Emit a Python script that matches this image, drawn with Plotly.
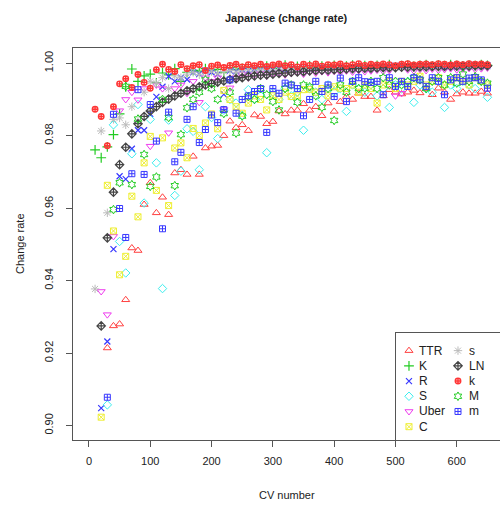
import plotly.graph_objects as go

# ---------------- data ----------------
CV_NUMBER = list(range(10, 651, 10))

SERIES_NAMES = ["TTR", "K", "R", "S", "Uber", "C", "s", "LN", "k", "M", "m"]

ttr = [None, None, .9214, .9275, .9280, .9347, .9490, .9483, .9610, .9670,
       .9587, .9630, .9582, .9697, .9706, .9693, .9743, .9693, .9766, .9771,
       .9773, .9800, .9840, .9822, .9830, .9814, .9857, .9853, .9833, .9839,
       .9868, .9860, .9870, .9870, .9888, .9870, .9880, .9855, .9890, .9867,
       .9894, .9908, .9900, .9917, .9908, .9908, .9870, .9910, .9927, .9920,
       .9915, .9920, .9925, .9918, .9930, .9913, .9931, .9920, .9900, .9915,
       .9920, .9917, .9917, .9922, .9917]

k_upper = [.9761, .9739, .9769, .9803, .9860, .9935, .9984, .9950, .9965, .9970,
           .9946, .9973, .9968, .9985, .9950, .9975, .9980, .9978, .9985, .9980,
           .9983, .9975, .9988, .9982, .9986, .9990, .9984, .9988, .9992, .9986,
           .9990, .9995, .9988, .9991, .9987, .9993, .9989, .9992, .9990, .9994,
           .9988, .9992, .9995, .9990, .9993, .9989, .9994, .9991, .9996, .9990,
           .9993, .9995, .9991, .9994, .9996, .9992, .9995, .9993, .9996, .9994,
           .9991, .9995, .9993, .9996, .9994]

r_upper = [None, .9048, .9232, .9487, .9688, .9680, .9764, .9815, .9815, .9860,
           .9907, .9935, .9964, .9950, .9960, .9955, .9975, .9970, .9980, .9975,
           .9970, .9914, .9980, .9977, .9982, .9979, .9984, .9981, .9985, .9983,
           .9986, .9982, .9987, .9985, .9988, .9984, .9987, .9989, .9986, .9988,
           .9990, .9987, .9989, .9991, .9988, .9990, .9992, .9989, .9991, .9993,
           .9990, .9992, .9989, .9993, .9991, .9994, .9992, .9990, .9993, .9991,
           .9994, .9992, .9995, .9993, .9994]

s_upper = [None, None, .9057, .9830, .9508, .9421, .9750, .9886, .9614, .9845,
           .9725, .9378, .9843, .9635, .9702, .9819, .9812, .9706, .9880, .9850,
           .9792, .9870, .9900, .9890, .9856, .9927, .9900, .9910, .9753, .9920,
           .9900, .9930, .9910, .9920, .9815, .9930, .9920, .9900, .9940, .9920,
           .9930, .9867, .9940, .9930, .9920, .9940, .9910, .9930, .9878, .9940,
           .9930, .9950, .9892, .9940, .9930, .9920, .9950, .9878, .9940, .9930,
           .9950, .9940, .9930, .9950, .9906]

uber = [None, .9370, .9306, .9522, .9869, .9900, .9920, .9899, .9930, .9771,
        .9940, .9930, .9808, .9930, .9940, .9917, .9950, .9892, .9960, .9950,
        .9960, .9872, .9932, .9960, .9970, .9960, .9968, .9972, .9965, .9970,
        .9974, .9968, .9972, .9975, .9970, .9976, .9973, .9977, .9974, .9978,
        .9975, .9979, .9976, .9980, .9977, .9979, .9981, .9978, .9980, .9910,
        .9917, .9982, .9979, .9983, .9980, .9984, .9981, .9983, .9985, .9982,
        .9984, .9986, .9983, .9985, .9987]

c_upper = [None, .9023, .9663, .9537, .9416, .9467, .9633, .9576, .9725, .9798,
           .9649, .9794, .9607, .9766, .9780, .9739, .9820, .9800, .9835, .9860,
           .9819, .9925, .9900, .9880, .9862, .9890, .9910, .9900, .9871, .9910,
           .9900, .9920, .9908, .9910, .9927, .9928, .9920, .9930, .9910, .9935,
           .9931, .9930, .9940, .9920, .9940, .9930, .9890, .9940, .9950, .9930,
           .9950, .9940, .9950, .9964, .9940, .9950, .9960, .9940, .9950, .9960,
           .9950, .9940, .9960, .9950, .9940]

s_lower = [.9377, .9813, .9587, .9845, .9849, .9830, .9880, .9840, .9920, .9950,
           .9945, .9960, .9930, .9965, .9960, .9970, .9975, .9968, .9974, .9978,
           .9972, .9977, .9980, .9975, .9979, .9982, .9978, .9981, .9983, .9979,
           .9982, .9984, .9981, .9985, .9983, .9986, .9984, .9987, .9985, .9987,
           .9986, .9988, .9986, .9989, .9987, .9989, .9988, .9990, .9988, .9990,
           .9989, .9991, .9989, .9991, .9990, .9992, .9990, .9992, .9991, .9992,
           .9991, .9993, .9992, .9993, .9992]

ln = [None, .9275, .9518, .9644, .9720, .9768, .9805, .9833, .9853, .9868,
      .9880, .9892, .9901, .9910, .9917, .9924, .9930, .9935, .9940, .9944,
      .9948, .9951, .9955, .9957, .9960, .9963, .9965, .9967, .9968, .9970,
      .9972, .9973, .9975, .9976, .9977, .9979, .9980, .9981, .9981, .9982,
      .9983, .9984, .9985, .9985, .9986, .9986, .9987, .9988, .9988, .9988,
      .9989, .9989, .9990, .9990, .9990, .9991, .9991, .9991, .9992, .9992,
      .9992, .9992, .9993, .9993, .9993]

k_lower = [.9873, .9853, .9772, .9880, .9943, .9957, .9933, .9969, .9947, .9931,
           .9982, .9997, .9983, .9977, .9996, .9985, .9993, .9996, .9980, .9992,
           .9995, .9988, .9994, .9997, .9990, .9996, .9993, .9997, .9991, .9995,
           .9998, .9993, .9996, .9990, .9997, .9994, .9998, .9992, .9996, .9995,
           .9998, .9993, .9996, .9999, .9994, .9997, .9995, .9998, .9996, .9993,
           .9997, .9999, .9995, .9997, .9998, .9996, .9999, .9997, .9995, .9998,
           .9996, .9999, .9997, .9998, .9996]

m_upper = [None, None, None, .9596, .9670, .9936, .9665, .9846, .9748, .9660,
           .9686, .9900, .9850, .9662, .9803, .9877, .9900, .9920, .9954, .9930,
           .9900, .9861, .9920, .9807, .9854, .9908, .9900, .9930, .9913, .9894,
           .9871, .9930, .9940, .9892, .9940, .9935, .9910, .9878, .9930, .9842,
           .9940, .9920, .9950, .9930, .9931, .9950, .9930, .9960, .9940, .9950,
           .9940, .9949, .9960, .9954, .9930, .9950, .9960, .9940, .9960, .9945,
           .9970, .9950, .9963, .9950, .9945]

m_lower = [None, None, .9078, .9859, .9599, .9519, .9695, .9927, .9693, .9886,
           .9785, .9543, .9865, .9728, .9754, .9845, .9880, .9781, .9817, .9857,
           .9836, .9872, .9954, .9862, .9900, .9910, .9922, .9930, .9809, .9930,
           .9917, .9945, .9940, .9930, .9855, .9900, .9950, .9922, .9940, .9908,
           .9959, .9894, .9950, .9960, .9949, .9947, .9950, .9913, .9960, .9936,
           .9950, .9936, .9960, .9954, .9936, .9960, .9950, .9913, .9954, .9960,
           .9950, .9959, .9960, .9954, .9931]

SERIES_VALUES = [ttr, k_upper, r_upper, s_upper, uber, c_upper,
                 s_lower, ln, k_lower, m_upper, m_lower]

X_TICKS = [0, 100, 200, 300, 400, 500, 600]
Y_TICKS = [0.90, 0.92, 0.94, 0.96, 0.98, 1.00]

# ---------------- styles ----------------
COLORS = ["#FF4040", "#22CC22", "#3838FF", "#3BEEEE", "#EE3BEE", "#EEEE30",
          "#BBBBBB", "#444444", "#FF3535", "#22CC22", "#3838FF"]
SYMBOLS = ["triangle-up-open", "cross-thin-open", "x-thin-open", "diamond-open",
           "triangle-down-open", "square-x-open", "asterisk-open",
           "diamond-cross-open", "circle-cross-open", "hexagram-open",
           "square-cross-open"]
SIZES = [7, 7, 6, 6.5, 7, 6, 7, 6.5, 5.5, 6.5, 6]
LINE_WIDTHS = [1, 1.2, 1.2, 1, 1, 1, 1, 1.2, 1.4, 1, 1]
FONT = "Liberation Sans, Arial, sans-serif"
AXIS_COLOR = "#555555"
TEXT_COLOR = "#222222"

# legend geometry (in legend-subplot units)
LEGEND_ROWS = 6
LEGEND_SYMBOL_X = [13, 62]
LEGEND_TEXT_X = [21, 71]

fig = go.Figure()

for name, vals, col, sym, sz, lw in zip(SERIES_NAMES, SERIES_VALUES, COLORS,
                                        SYMBOLS, SIZES, LINE_WIDTHS):
    fig.add_trace(go.Scatter(
        x=CV_NUMBER, y=vals, mode="markers", name=name, showlegend=False,
        marker=dict(symbol=sym, size=sz, color=col,
                    line=dict(color=col, width=lw)),
        cliponaxis=True,
    ))

# manual legend in a small overlay subplot (two columns like R's legend ncol=2)
annotations = []
for i, (name, col, sym, sz, lw) in enumerate(zip(SERIES_NAMES, COLORS, SYMBOLS,
                                                 SIZES, LINE_WIDTHS)):
    c = i // LEGEND_ROWS
    r = i % LEGEND_ROWS
    fig.add_trace(go.Scatter(
        x=[LEGEND_SYMBOL_X[c]], y=[r], mode="markers", showlegend=False,
        xaxis="x2", yaxis="y2", hoverinfo="skip",
        marker=dict(symbol=sym, size=sz, color=col,
                    line=dict(color=col, width=lw)),
    ))
    annotations.append(dict(
        x=LEGEND_TEXT_X[c], y=r, xref="x2", yref="y2", text=name,
        showarrow=False, xanchor="left", yanchor="middle",
        font=dict(family=FONT, size=12, color=TEXT_COLOR),
    ))

annotations += [
    dict(text="<b>Japanese (change rate)</b>", x=0.5, y=1, xref="paper", yref="paper",
         yshift=30, showarrow=False, xanchor="center", yanchor="middle",
         font=dict(family=FONT, size=11, color=TEXT_COLOR)),
    dict(text="CV number", x=0.5, y=0, xref="paper", yref="paper",
         yshift=-55, showarrow=False, xanchor="center", yanchor="middle",
         font=dict(family=FONT, size=11, color=TEXT_COLOR)),
    dict(text="Change rate", x=0, y=0.5, xref="paper", yref="paper",
         xshift=-53, showarrow=False, textangle=-90, xanchor="center",
         yanchor="middle", font=dict(family=FONT, size=11, color=TEXT_COLOR)),
]

fig.update_layout(
    width=500, height=508,
    margin=dict(l=73, r=0, t=48, b=68),
    paper_bgcolor="white", plot_bgcolor="white",
    showlegend=False,
    annotations=annotations,
    xaxis=dict(range=[-26, 670.5], domain=[0, 1], tickvals=X_TICKS,
               showgrid=False, zeroline=False, showline=True, mirror=True,
               linecolor=AXIS_COLOR, linewidth=1, ticks="outside", ticklen=6,
               tickcolor=AXIS_COLOR, ticklabelstandoff=5,
               tickfont=dict(family=FONT, size=11, color=TEXT_COLOR)),
    yaxis=dict(range=[0.896, 1.0042], domain=[0, 1], tickvals=Y_TICKS,
               tickformat=".2f", tickangle=-90,
               showgrid=False, zeroline=False, showline=True, mirror=True,
               linecolor=AXIS_COLOR, linewidth=1, ticks="outside", ticklen=6,
               tickcolor=AXIS_COLOR, ticklabelstandoff=9,
               tickfont=dict(family=FONT, size=11, color=TEXT_COLOR)),
    xaxis2=dict(domain=[0.7564, 1], range=[0, 104], anchor="y2",
                showgrid=False, zeroline=False, showticklabels=False,
                showline=True, mirror=True, linecolor=AXIS_COLOR, ticks=""),
    yaxis2=dict(domain=[0, 0.273], range=[5.875, -1.16], anchor="x2",
                showgrid=False, zeroline=False, showticklabels=False,
                showline=True, mirror=True, linecolor=AXIS_COLOR, ticks=""),
)

fig.write_html("out.html")
